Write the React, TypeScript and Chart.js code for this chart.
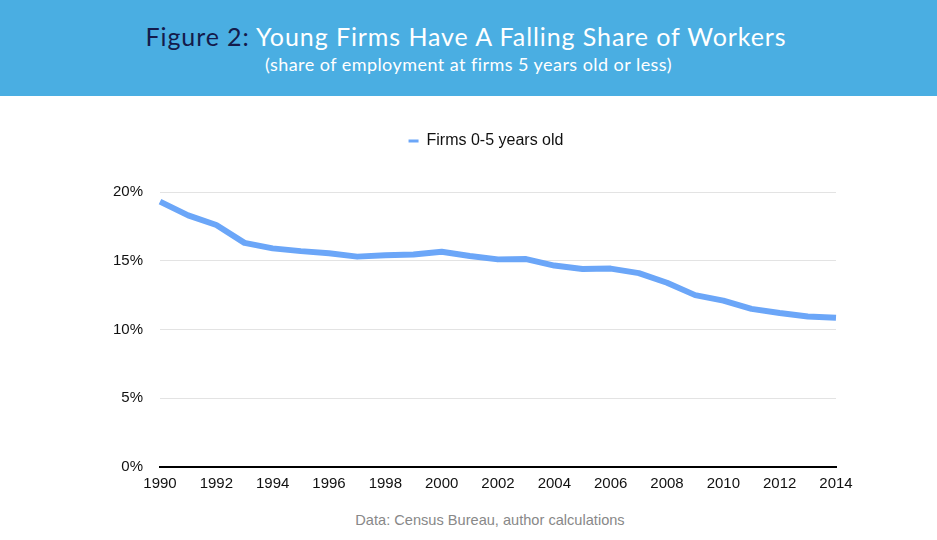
import { useEffect, useRef } from "react";
import { Chart, registerables } from "chart.js";

Chart.register(...registerables);

const years = [
  "1990", "1991", "1992", "1993", "1994", "1995", "1996", "1997", "1998", "1999",
  "2000", "2001", "2002", "2003", "2004", "2005", "2006", "2007", "2008", "2009",
  "2010", "2011", "2012", "2013", "2014",
];
const youngFirmShare = [
  19.3, 18.3, 17.6, 16.3, 15.9, 15.7, 15.55, 15.3, 15.4, 15.45,
  15.65, 15.35, 15.1, 15.12, 14.65, 14.4, 14.43, 14.1, 13.4, 12.5,
  12.1, 11.5, 11.2, 10.95, 10.85,
];
const yMin = 0;
const yMax = 20;
const yStep = 5;
const seriesLabel = "Firms 0-5 years old";
const titleLead = "Figure 2:";
const titleRest = " Young Firms Have A Falling Share of Workers";
const subtitleText = "(share of employment at firms 5 years old or less)";
const sourceNote = "Data: Census Bureau, author calculations";

const LINE_COLOR = "#6ba6f8";
const HEADER_BG = "#4aaee2";
const FONT = "'Liberation Sans', Arial, Helvetica, sans-serif";

export default function App() {
  const canvasRef = useRef<HTMLCanvasElement>(null);

  useEffect(() => {
    document.body.style.margin = "0";
    const canvas = canvasRef.current;
    if (!canvas) return;

    const legendSpacer = {
      id: "legendSpacer",
      beforeInit(chart: any) {
        const legend = chart.legend;
        if (!legend) return;
        const origFit = legend.fit;
        legend.fit = function () {
          origFit.call(this);
          this.height += 33;
        };
      },
      afterLayout(chart: any) {
        const legend = chart.legend;
        if (!legend) return;
        legend.left += 68;
        legend.right += 68;
      },
    };

    const chart = new Chart(canvas, {
      type: "line",
      data: {
        labels: years,
        datasets: [
          {
            label: seriesLabel,
            data: youngFirmShare,
            borderColor: LINE_COLOR,
            backgroundColor: LINE_COLOR,
            borderWidth: 6,
            pointRadius: 0,
            tension: 0,
            fill: false,
            borderJoinStyle: "round",
          },
        ],
      },
      options: {
        animation: false,
        responsive: true,
        maintainAspectRatio: false,
        layout: { padding: { top: 27, right: 101, bottom: 0, left: 0 } },
        plugins: {
          tooltip: { enabled: false },
          legend: {
            display: true,
            position: "top",
            labels: {
              boxWidth: 10,
              boxHeight: 3,
              padding: 10,
              color: "#111",
              font: { family: FONT, size: 16 },
              generateLabels(chart: any) {
                const items = Chart.defaults.plugins.legend.labels.generateLabels(chart);
                return items.map((it: any) => ({ ...it, lineWidth: 0, fillStyle: LINE_COLOR }));
              },
            },
          },
        },
        scales: {
          x: {
            type: "category",
            grid: { display: false, drawTicks: false },
            border: { display: true, color: "#000", width: 2 },
            ticks: {
              autoSkip: false,
              maxRotation: 0,
              padding: 8,
              color: "#111",
              font: { family: FONT, size: 15 },
              callback: (_v: any, i: number) => (i % 2 === 0 ? years[i] : ""),
            },
          },
          y: {
            min: yMin,
            max: yMax,
            grid: { color: "#e3e3e3", drawTicks: false, lineWidth: 1 },
            border: { display: false },
            ticks: {
              stepSize: yStep,
              padding: 17,
              color: "#111",
              font: { family: FONT, size: 15 },
              callback: (v: any) => `${v}%`,
            },
            afterFit: (scale: any) => {
              scale.width = 160;
            },
          },
        },
      },
      plugins: [legendSpacer],
    });

    return () => chart.destroy();
  }, []);

  return (
    <div style={{ position: "relative", width: 937, height: 540, overflow: "hidden", background: "#fff" }}>
      <div
        style={{
          position: "absolute",
          left: 0,
          top: 0,
          width: 937,
          height: 96,
          background: HEADER_BG,
          textAlign: "center",
          fontFamily: "Lato, 'Open Sans', sans-serif",
        }}
      >
        <div
          style={{
            position: "absolute",
            left: 0,
            width: 937,
            top: 20,
            fontSize: 25,
            letterSpacing: "0.92px",
            lineHeight: "32px",
            color: "#fff",
            paddingRight: 5,
            boxSizing: "border-box",
            whiteSpace: "nowrap",
          }}
        >
          <span style={{ color: "#141b4b" }}>{titleLead}</span>
          {titleRest}
        </div>
        <div
          style={{
            position: "absolute",
            left: 0,
            width: 937,
            top: 53,
            fontSize: 18,
            letterSpacing: "0.45px",
            lineHeight: "22px",
            color: "#fff",
            whiteSpace: "nowrap",
          }}
        >
          {subtitleText}
        </div>
      </div>
      <div style={{ position: "absolute", left: 0, top: 96, width: 937, height: 405 }}>
        <canvas ref={canvasRef} />
      </div>
      <div
        style={{
          position: "absolute",
          left: 0,
          top: 510,
          width: 937,
          paddingLeft: 43,
          boxSizing: "border-box",
          textAlign: "center",
          fontFamily: FONT,
          fontSize: 14.6,
          lineHeight: "20px",
          color: "#888",
        }}
      >
        {sourceNote}
      </div>
    </div>
  );
}
